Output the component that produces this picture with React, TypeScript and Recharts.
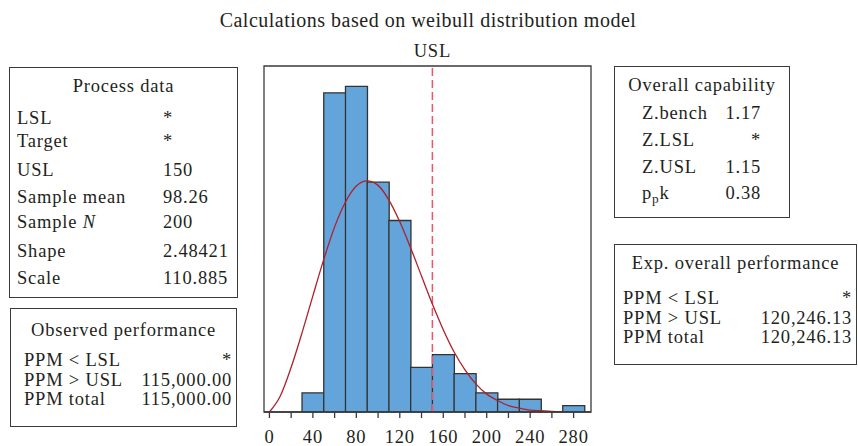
import React from 'react';
import { ComposedChart, Bar, Line, XAxis, YAxis, ReferenceLine, ReferenceArea } from 'recharts';

// histogram bins (width 20), centers and counts
const BIN_MID = [40, 60, 80, 100, 120, 140, 160, 180, 200, 220, 240, 260, 280];
const BIN_COUNT = [3, 50, 51, 36, 30, 7, 9, 6, 3, 2, 2, 0, 1];

// fitted weibull curve (count scale)
const FIT_X = [0, 10, 20, 30, 40, 50, 60, 70, 80, 90, 100, 110, 120, 130, 140, 150, 160, 170, 180, 190, 200, 210, 220, 230, 240, 250, 260, 270];
const FIT_Y = [0, 2.5, 7.0, 12.4, 18.2, 23.9, 29.0, 32.9, 35.4, 36.2, 35.5, 33.2, 29.8, 25.7, 21.3, 16.9, 12.9, 9.4, 6.6, 4.4, 2.8, 1.8, 1.0, 0.6, 0.3, 0.2, 0.1, 0.05];

const X_TICKS = [0, 20, 40, 60, 80, 100, 120, 140, 160, 180, 200, 220, 240, 260, 280];
const USL = 150;

const PROCESS_LABELS = ['LSL', 'Target', 'USL', 'Sample mean', 'Sample |N|', 'Shape', 'Scale'];
const PROCESS_VALUES = ['*', '*', '150', '98.26', '200', '2.48421', '110.885'];

const OBSERVED_LABELS = ['PPM < LSL', 'PPM > USL', 'PPM total'];
const OBSERVED_VALUES = ['*', '115,000.00', '115,000.00'];

const OVERALL_LABELS = ['Z.bench', 'Z.LSL', 'Z.USL', 'p_pk'];
const OVERALL_VALUES = ['1.17', '*', '1.15', '0.38'];

const EXP_LABELS = ['PPM < LSL', 'PPM > USL', 'PPM total'];
const EXP_VALUES = ['*', '120,246.13', '120,246.13'];

const FONT = '"Liberation Serif", "Times New Roman", serif';
const INK = '#231f20';
const X_DOMAIN = [-5, 296];
const Y_DOMAIN = [0, 54.2];

const binData = BIN_MID.map((mid, i) => ({ mid, count: BIN_COUNT[i] }));
const fitData = FIT_X.map((x, i) => ({ x, y: FIT_Y[i] }));

// tiny markup: _x -> subscript x, |txt| -> italic
function renderLabel(s: string) {
  const parts: React.ReactNode[] = [];
  const re = /_(\w)|\|([^|]+)\|/g;
  let last = 0;
  let m: RegExpExecArray | null;
  let k = 0;
  while ((m = re.exec(s))) {
    if (m.index > last) parts.push(s.slice(last, m.index));
    if (m[1]) parts.push(<sub key={k++} style={{ fontSize: '0.72em', verticalAlign: '-0.3em' }}>{m[1]}</sub>);
    else parts.push(<i key={k++}>{m[2]}</i>);
    last = re.lastIndex;
  }
  if (last < s.length) parts.push(s.slice(last));
  return parts;
}

interface BoxLayout {
  left: number;
  top: number;
  width: number;
  height: number;
  titleY: number;
  rowYs: number[];
  labelX: number;
  valueX: number;
  valueAlign: 'left' | 'right';
}

const StatBox = ({ title, labels, values, box }: { title: string; labels: string[]; values: string[]; box: BoxLayout }) => {
  const lh = 24;
  return (
    <div
      style={{
        position: 'absolute',
        left: box.left,
        top: box.top,
        width: box.width,
        height: box.height,
        border: '1.3px solid #3a3a3a',
        boxSizing: 'border-box',
      }}
    >
      <div style={{ position: 'absolute', left: 0, right: 0, top: box.titleY - box.top - lh / 2 - 1, height: lh, lineHeight: `${lh}px`, textAlign: 'center', whiteSpace: 'nowrap' }}>
        {title}
      </div>
      {labels.map((label, i) => {
        const top = box.rowYs[i] - box.top - lh / 2 - 1;
        return (
          <React.Fragment key={label}>
            <div style={{ position: 'absolute', left: box.labelX - box.left - 1, top, height: lh, lineHeight: `${lh}px`, whiteSpace: 'nowrap' }}>
              {renderLabel(label)}
            </div>
            <div
              style={
                box.valueAlign === 'left'
                  ? { position: 'absolute', left: box.valueX - box.left - 1, top, height: lh, lineHeight: `${lh}px`, whiteSpace: 'nowrap' }
                  : { position: 'absolute', right: box.left + box.width - box.valueX - 1, top, height: lh, lineHeight: `${lh}px`, whiteSpace: 'nowrap' }
              }
            >
              {values[i]}
            </div>
          </React.Fragment>
        );
      })}
    </div>
  );
};

const PROCESS_BOX: BoxLayout = { left: 9, top: 67, width: 229, height: 231, titleY: 86, rowYs: [118, 141, 170, 197, 222, 251, 278], labelX: 17, valueX: 163, valueAlign: 'left' };
const OBSERVED_BOX: BoxLayout = { left: 10, top: 308, width: 227, height: 119, titleY: 330, rowYs: [360, 380, 399], labelX: 24, valueX: 232, valueAlign: 'right' };
const OVERALL_BOX: BoxLayout = { left: 614, top: 66, width: 176, height: 152, titleY: 85, rowYs: [113, 140, 167, 193], labelX: 642, valueX: 761, valueAlign: 'right' };
const EXP_BOX: BoxLayout = { left: 614, top: 244, width: 243, height: 121, titleY: 263, rowYs: [298, 318, 337], labelX: 623, valueX: 852, valueAlign: 'right' };

export default function App() {
  return (
    <div
      style={{
        position: 'absolute',
        left: 0,
        top: 0,
        width: 858,
        height: 446,
        background: '#fff',
        fontFamily: FONT,
        fontSize: 18.5,
        letterSpacing: 0.8,
        color: INK,
      }}
    >
      <div style={{ position: 'absolute', left: 0, width: 856, top: 8, height: 24, lineHeight: '24px', textAlign: 'center', fontSize: 20, letterSpacing: 0.5 }}>
        Calculations based on weibull distribution model
      </div>

      <div style={{ position: 'absolute', left: 0, top: 0 }}>
        <ComposedChart
          width={858}
          height={446}
          data={binData}
          barCategoryGap={0}
          barGap={0}
          margin={{ top: 66, right: 267, bottom: 4, left: 264 }}
        >
          <XAxis xAxisId="bins" dataKey="mid" type="number" domain={X_DOMAIN} allowDataOverflow hide height={0} />
          <XAxis
            xAxisId="fit"
            dataKey="x"
            type="number"
            domain={X_DOMAIN}
            allowDataOverflow
            ticks={X_TICKS}
            interval={0}
            tickFormatter={(v: number) => (v % 40 === 0 ? String(v) : '')}
            height={30}
            tickSize={6}
            tickMargin={12}
            axisLine={{ stroke: '#3a3a3a', strokeWidth: 1.3 }}
            tickLine={{ stroke: '#3a3a3a', strokeWidth: 1.3 }}
            tick={{ fill: INK, fontSize: 18.5, fontFamily: FONT, letterSpacing: 0.8 }}
          />
          <YAxis domain={Y_DOMAIN} allowDataOverflow hide width={0} />
          <ReferenceArea xAxisId="fit" x1={X_DOMAIN[0]} x2={X_DOMAIN[1]} y1={Y_DOMAIN[0]} y2={Y_DOMAIN[1]} fill="none" fillOpacity={0} stroke="#3a3a3a" strokeWidth={1.3} />
          <ReferenceLine
            xAxisId="fit"
            x={USL}
            stroke="#ee5566"
            strokeWidth={1.5}
            strokeDasharray="8 4"
            label={{ value: 'USL', position: 'top', offset: 9, fill: INK, fontSize: 18.5, fontFamily: FONT }}
          />
          <Bar xAxisId="bins" dataKey="count" fill="#63a4da" stroke="#333" strokeWidth={1.3} isAnimationActive={false} />
          <Line
            xAxisId="fit"
            data={fitData}
            dataKey="y"
            type="monotone"
            stroke="#b0202c"
            strokeWidth={1.3}
            dot={false}
            activeDot={false}
            isAnimationActive={false}
          />
        </ComposedChart>
      </div>

      <StatBox title="Process data" labels={PROCESS_LABELS} values={PROCESS_VALUES} box={PROCESS_BOX} />
      <StatBox title="Observed performance" labels={OBSERVED_LABELS} values={OBSERVED_VALUES} box={OBSERVED_BOX} />
      <StatBox title="Overall capability" labels={OVERALL_LABELS} values={OVERALL_VALUES} box={OVERALL_BOX} />
      <StatBox title="Exp. overall performance" labels={EXP_LABELS} values={EXP_VALUES} box={EXP_BOX} />
    </div>
  );
}
